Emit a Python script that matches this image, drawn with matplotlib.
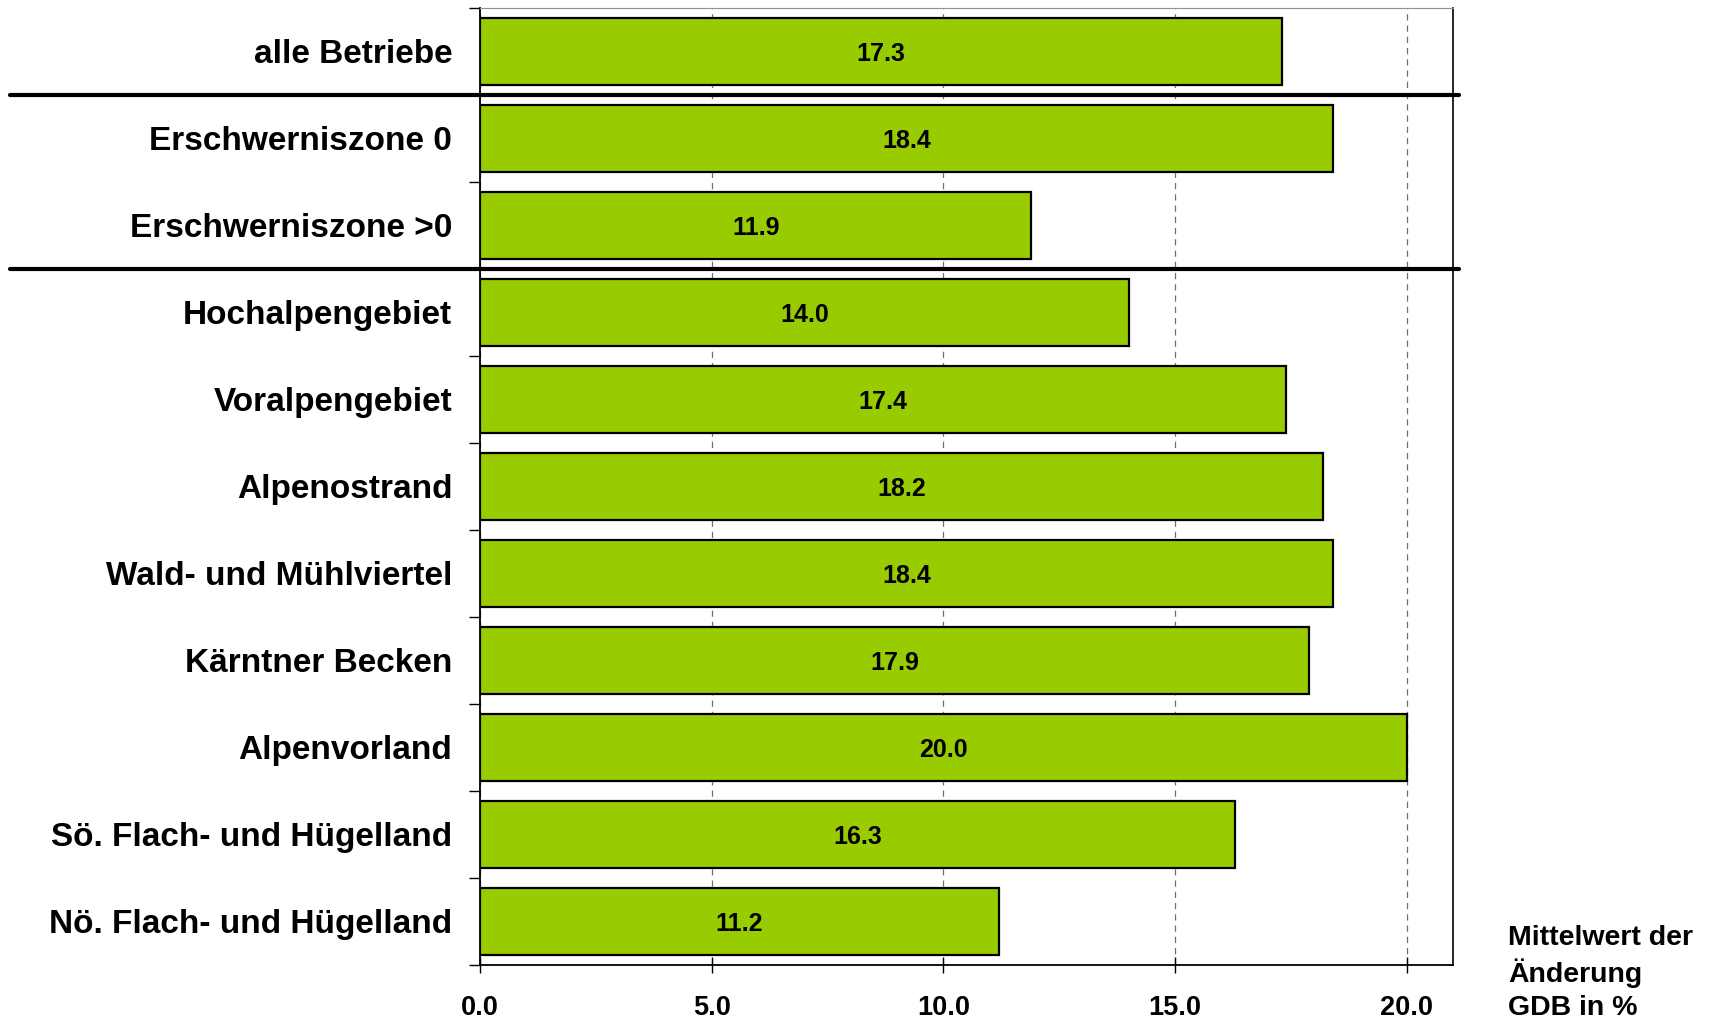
import matplotlib.pyplot as plt
from matplotlib.ticker import FixedLocator

plt.rcParams['font.family'] = ['Liberation Sans', 'DejaVu Sans']
plt.rcParams['font.weight'] = 'bold'

# data
categories = ['alle Betriebe', 'Erschwerniszone 0', 'Erschwerniszone >0',
              'Hochalpengebiet', 'Voralpengebiet', 'Alpenostrand',
              'Wald- und Mühlviertel', 'Kärntner Becken', 'Alpenvorland',
              'Sö. Flach- und Hügelland', 'Nö. Flach- und Hügelland']
values = [17.3, 18.4, 11.9, 14.0, 17.4, 18.2, 18.4, 17.9, 20.0, 16.3, 11.2]
xticks = [0, 5, 10, 15, 20]
separators = [0.5, 2.5]

fig = plt.figure(figsize=(17.09, 10.22), dpi=100)
ax = fig.add_axes([0.2809, 0.0558, 0.5693, 0.9364])

pos = list(range(len(categories)))
ax.barh(pos, values, height=0.76, color='#99CC00', edgecolor='black',
        linewidth=1.6, zorder=3)

for p, v in zip(pos, values):
    ax.text(v / 2, p + 0.03, f'{v:.1f}', ha='center', va='center',
            fontsize=18, fontweight='bold', zorder=4)

ax.set_xlim(0, 21)
ax.set_ylim(len(categories) - 0.5, -0.5)

ax.set_xticks(xticks)
ax.set_xticklabels([f'{t:.1f}' for t in xticks], fontsize=19.5, fontweight='bold')
ax.tick_params(axis='x', direction='inout', length=11, width=1, pad=16)

ax.set_yticks(pos)
ax.set_yticklabels(categories, fontsize=24, fontweight='bold')
ax.tick_params(axis='y', which='major', length=0, pad=20)
ax.yaxis.set_minor_locator(FixedLocator([i - 0.5 for i in range(len(categories) + 1)]))
ax.tick_params(axis='y', which='minor', length=8, width=1, direction='out')

ax.xaxis.grid(True, linestyle=(0, (5, 4)), color='#707070', linewidth=0.9, zorder=0)
ax.set_axisbelow(True)

ax.spines['top'].set_color('#909090')
ax.spines['right'].set_color('black')
ax.spines['right'].set_linewidth(1.2)
ax.spines['bottom'].set_linewidth(1.3)
ax.spines['left'].set_linewidth(1.3)

# thick separator lines
trans = ax.get_yaxis_transform()
for s in separators:
    ax.plot([-0.483, 1.006], [s, s], color='black', linewidth=3,
            solid_capstyle='round', transform=trans, clip_on=False, zorder=5)

fig.text(1508 / 1709, 0.048, 'Mittelwert der\nÄnderung\nGDB in %',
         ha='left', va='center', fontsize=20.5, fontweight='bold', linespacing=1.35)

fig.savefig('out.png', dpi=100)
